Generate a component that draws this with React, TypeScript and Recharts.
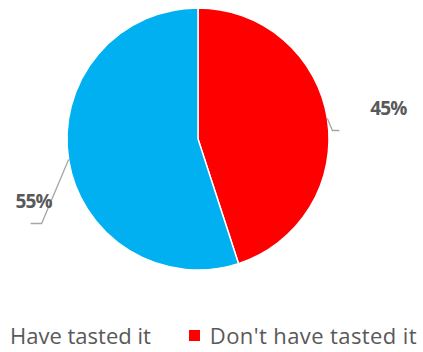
import React from 'react';
import { PieChart, Pie, Cell, Legend } from 'recharts';

const categories = ["Don't have tasted it", 'Have tasted it'];
const shares = [45, 55];
const colors = ['#FF0000', '#00B0F0'];
const legendOrder = [1, 0];

const data = categories.map((name, i) => ({ name, value: shares[i] }));

const RADIAN = Math.PI / 180;

const renderLabel = (props: any) => {
  const { cx, cy, midAngle, outerRadius, value } = props;
  const x0 = cx + outerRadius * Math.cos(-midAngle * RADIAN);
  const y0 = cy + outerRadius * Math.sin(-midAngle * RADIAN);
  const right = Math.cos(-midAngle * RADIAN) >= 0;
  // excel-ish leader lines
  const pts = right
    ? [[x0, y0], [x0 + 5, y0 + 12], [x0 + 12, y0 + 12]]
    : [[x0, y0], [x0 - 27, y0 + 64], [x0 - 38, y0 + 64]];
  const tx = right ? x0 + 61 : x0 - 35;
  const ty = right ? y0 - 11 : y0 + 42;
  return (
    <g>
      <polyline
        points={pts.map((p) => p.join(',')).join(' ')}
        fill="none"
        stroke="#A6A6A6"
        strokeWidth={1.3}
      />
      <text
        x={tx}
        y={ty}
        textAnchor="middle"
        dominantBaseline="central"
        fill="#595959"
        fontSize={19}
        fontWeight="bold"
        letterSpacing={-0.8}
        fontFamily="'Open Sans', sans-serif"
      >
        {value}%
      </text>
    </g>
  );
};

const renderLegend = () => (
  <div style={{ display: 'flex', alignItems: 'center', fontFamily: "'Open Sans', sans-serif", fontSize: 22, color: '#595959' }}>
    {legendOrder.map((i, k) => (
      <div key={i} style={{ display: 'flex', alignItems: 'center', marginRight: k === 0 ? 38 : 0 }}>
        <span style={{ width: 11, height: 11, background: colors[i], marginRight: 10, display: 'inline-block' }} />
        <span style={{ letterSpacing: k === 1 ? 0.4 : 0 }}>{categories[i]}</span>
      </div>
    ))}
  </div>
);

export default function App() {
  return (
    <div style={{ position: 'absolute', left: 0, top: 0, width: 423, height: 352, background: '#fff', overflow: 'hidden' }}>
      <PieChart width={423} height={352} margin={{ top: 0, right: 0, bottom: 0, left: 0 }}>
        <Pie
          data={data}
          dataKey="value"
          cx={198}
          cy={139}
          outerRadius={131}
          startAngle={90}
          endAngle={-270}
          stroke="#fff"
          strokeWidth={1.5}
          label={renderLabel}
          labelLine={false}
          isAnimationActive={false}
        >
          {data.map((d, i) => (
            <Cell key={d.name} fill={colors[i]} />
          ))}
        </Pie>
        <Legend
          content={renderLegend}
          wrapperStyle={{ position: 'absolute', left: -11, top: 320, width: 460 }}
        />
      </PieChart>
    </div>
  );
}
